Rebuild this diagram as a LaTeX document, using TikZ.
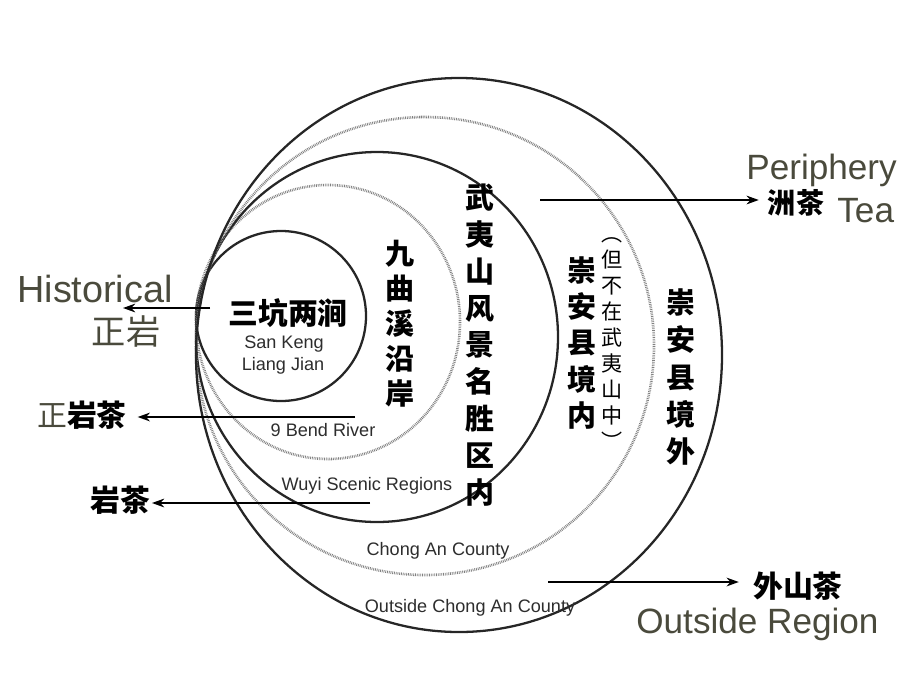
\documentclass[tikz,border=0pt]{standalone}
\usepackage{fontspec}
\usepackage{tikz}
\usetikzlibrary{arrows.meta}
\setmainfont{Liberation Sans}
\newfontfamily\cjk{Noto Sans CJK SC}
\definecolor{olivegray}{RGB}{74,74,60}
\definecolor{labelgray}{RGB}{45,45,45}

\tikzset{
  ring/.style={line width=1.3pt, black!85},
  dotring/.style={line width=1.5pt, black!50, dash pattern=on .45pt off .55pt},
  tip/.style={line width=.9pt, -{Stealth[length=7pt,width=5pt]}},
  vcol/.style={align=center, inner sep=0pt, font=\cjk\bfseries\fontsize{16.5}{#1}\selectfont},
  inlabel/.style={anchor=base, inner sep=0pt, text=labelgray, font=\fontsize{10.3}{12}\selectfont},
  biglabel/.style={anchor=base west, inner sep=0pt, text=olivegray, font=\fontsize{20}{24}\selectfont},
  teatag/.style={inner sep=1pt, font=\cjk\bfseries\fontsize{17}{20}\selectfont}
}

\begin{document}
\begin{tikzpicture}[x=.02cm, y=-.02cm]
\useasboundingbox (0,0) rectangle (908,673);

% rings, inner to outer
\draw[ring] (281,316) circle [radius=85];
\draw[dotring] (328,322) ellipse [x radius=132, y radius=137];
\draw[ring] (377,337) ellipse [x radius=181, y radius=185];
\draw[dotring] (425,346) ellipse [x radius=229, y radius=229];
\draw[ring] (459,355) ellipse [x radius=263, y radius=277];

% inside the rings
\node[teatag] (skname) at (288,313) {三坑两涧};
\node[inlabel] (sk1) at (284,348) {San Keng};
\node[inlabel] (sk2) at (283,370) {Liang Jian};
\node[vcol=19.9] (jqcol) at (400,324) {九\\曲\\溪\\沿\\岸};
\node[inlabel] (jqen) at (323,436) {9 Bend River};
\node[vcol=21] (wycol) at (480,345) {武\\夷\\山\\风\\景\\名\\胜\\区\\内};
\node[inlabel] (wyen) at (367,490) {Wuyi Scenic Regions};
\node[vcol=20.6] (cain) at (582,343) {崇\\安\\县\\境\\内};
\node[align=center, inner sep=0pt, font=\cjk\fontsize{12}{14.8}\selectfont] (canot) at (612,344)
  {︵\\但\\不\\在\\武\\夷\\山\\中\\︶};
\node[inlabel] (caen) at (438,555) {Chong An County};
\node[vcol=21.3] (caout) at (681,377) {崇\\安\\县\\境\\外};
\node[inlabel] (outen) at (470,612) {Outside Chong An County};

% left side
\node[biglabel, font=\fontsize{21.5}{24}\selectfont] (hist) at (17,302) {Historical};
\node[inner sep=0pt, text=olivegray, font=\cjk\fontsize{19.5}{22}\selectfont] (zy) at (126,331) {正岩};
\node[teatag, inner sep=6pt] (zyc) at (82,415) {{\color{olivegray}\mdseries 正}岩茶};
\node[teatag] (yc) at (120,500) {岩茶};

% right side
\node[biglabel] (peri) at (746,179) {Periphery};
\node[teatag, font=\cjk\bfseries\fontsize{16}{20}\selectfont, inner sep=5pt] (zc) at (796,203) {洲茶};
\node[biglabel] (tea) at (837,222) {Tea};
\node[teatag, inner sep=8pt] (wsc) at (798,586) {外山茶};
\node[biglabel] (outreg) at (636,633) {Outside Region};

% arrows
\coordinate (skfrom) at (210,308);
\coordinate (histtip) at (123,308);
\coordinate (jqfrom) at (355,417);
\coordinate (wyfrom) at (370,503);
\coordinate (zcfrom) at (540,200);
\coordinate (wsfrom) at (548,582);
\draw[tip] (skfrom) -- (histtip);
\draw[tip] (jqfrom) -- (jqfrom -| zyc.east);
\draw[tip] (wyfrom) -- (wyfrom -| yc.east);
\draw[tip] (zcfrom) -- (zcfrom -| zc.west);
\draw[tip] (wsfrom) -- (wsfrom -| wsc.west);
\end{tikzpicture}
\end{document}
